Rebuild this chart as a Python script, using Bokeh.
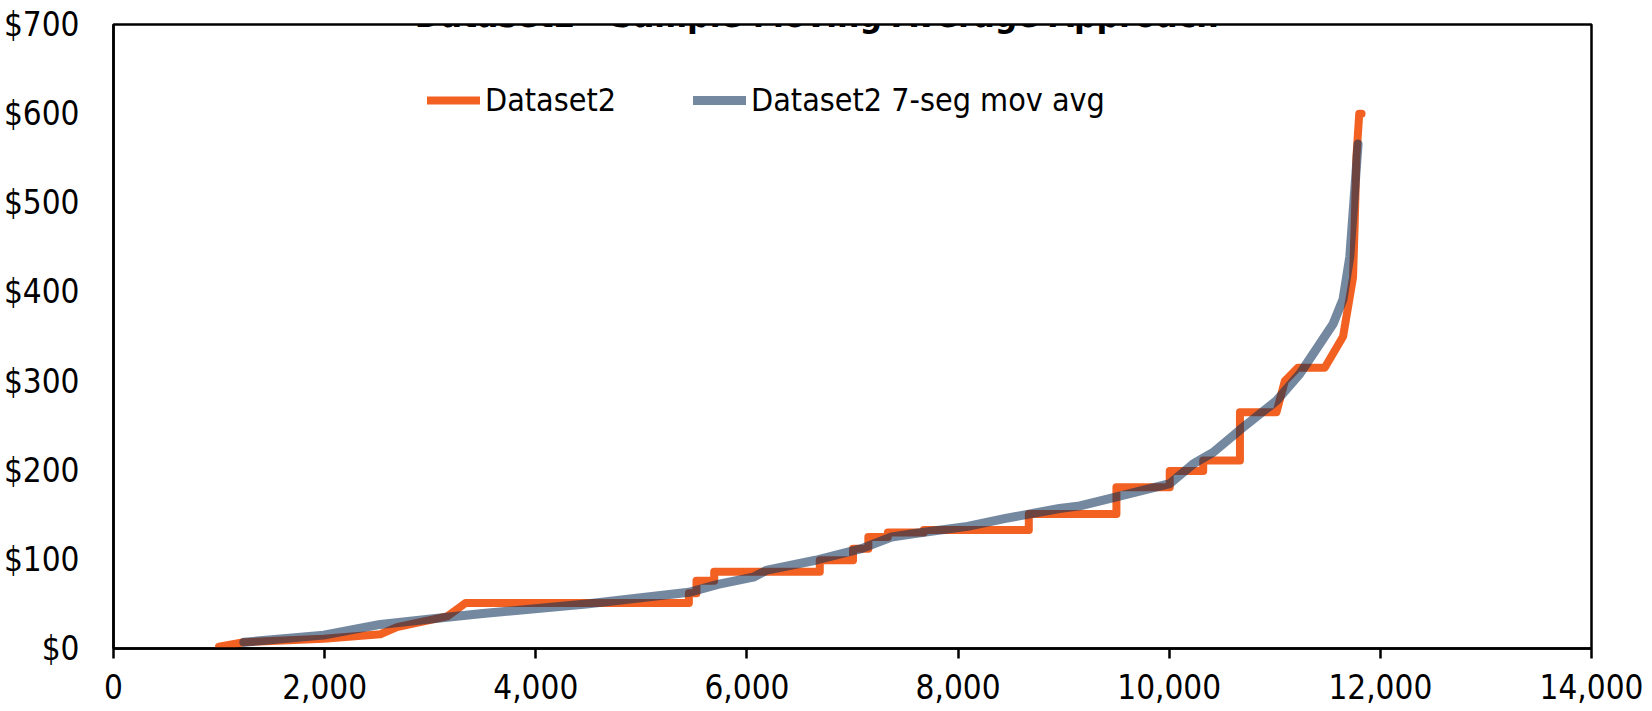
from bokeh.plotting import figure
from bokeh.models import Range1d, NumeralTickFormatter, FixedTicker, Label, Legend, LegendItem
from bokeh.embed import file_html
from bokeh.resources import INLINE

# ---- data ----
title_text = "Dataset2 - Sample Moving Average Approach"
series_names = ["Dataset2", "Dataset2 7-seg mov avg"]

# Dataset2 (sorted, step-like)
ds_x = [1000, 1234, 1990, 2527, 2685, 3160, 3335, 5450, 5450, 5522, 5522, 5690, 5690,
        6690, 6690, 7005, 7005, 7150, 7150, 7335, 7335, 7675, 7675, 8670, 8670,
        9500, 9500, 10005, 10005, 10322, 10322, 10670, 10670, 11016, 11095, 11218,
        11473, 11647, 11741, 11757, 11773, 11800, 11822]
ds_y = [2, 7, 11, 16, 24, 36, 51, 51, 62, 62, 76, 76, 86,
        86, 99, 99, 112, 112, 125, 125, 130, 130, 133, 133, 151,
        151, 181, 181, 199, 199, 211, 211, 265, 265, 300, 315,
        315, 350, 416, 476, 551, 600, 600]

# 7-segment moving average
ma_x = [1234, 1991, 2527, 3159, 3474, 4480, 5450, 5725, 6060, 6190, 6650, 7085,
        7370, 7590, 8090, 8450, 8960, 9154, 9501, 10006, 10227, 10416, 10668,
        10858, 11016, 11236, 11552, 11647, 11710, 11757, 11789]
ma_y = [7, 15, 27, 35, 39, 50, 63, 72, 80, 88, 99, 112,
        125, 129, 137, 146, 157, 160, 170, 185, 207, 220, 245,
        263, 278, 308, 364, 392, 439, 514, 566]

x_ticks = [0, 2000, 4000, 6000, 8000, 10000, 12000, 14000]
y_ticks = [0, 100, 200, 300, 400, 500, 600, 700]

FONT = "'Liberation Sans Narrow', 'Arial Narrow', 'DejaVu Sans Condensed', sans-serif"
ORANGE = "#F26122"
SLATE = "#0A2D58"

p = figure(width=1652, height=711, output_backend="svg", toolbar_location=None,
           x_range=Range1d(0, 14000), y_range=Range1d(0, 700),
           min_border_left=113, min_border_right=61, min_border_top=24, min_border_bottom=63)
p.background_fill_color = "white"
p.border_fill_color = "white"
p.grid.visible = False
p.outline_line_color = "black"
p.outline_line_width = 2.5

r1 = p.line(ds_x, ds_y, line_color=ORANGE, line_width=8, line_join="round", line_cap="round")
r2 = p.line(ma_x, ma_y, line_color=SLATE, line_alpha=0.57, line_width=9, line_join="round", line_cap="round")

# axes
p.xaxis.ticker = FixedTicker(ticks=x_ticks)
p.yaxis.ticker = FixedTicker(ticks=y_ticks)
p.xaxis.formatter = NumeralTickFormatter(format="0,0")
p.yaxis.formatter = NumeralTickFormatter(format="$0")
for ax in (p.xaxis, p.yaxis):
    ax.axis_line_color = "black"
    ax.axis_line_width = 2.5
    ax.major_label_text_font = FONT
    ax.major_label_text_font_size = "33px"
    ax.major_label_text_color = "black"
    ax.minor_tick_line_color = None
    ax.major_tick_line_color = "black"
    ax.major_tick_line_width = 2.5
p.xaxis.major_tick_out = 10
p.xaxis.major_tick_in = 0
p.xaxis.major_label_standoff = 15
p.yaxis.major_tick_out = 0
p.yaxis.major_tick_in = 0
p.yaxis.major_label_standoff = 34

# title (partly above the visible area, as in the reference)
title = Label(x=6660, y=711, text=title_text, text_align="center",
              text_baseline="alphabetic", text_font=FONT, text_font_size="35px",
              text_font_style="bold", text_color="black")
p.add_layout(title)

legend = Legend(items=[LegendItem(label=series_names[0], renderers=[r1]),
                       LegendItem(label=series_names[1], renderers=[r2])],
                orientation="horizontal", location=(314, 528))
legend.border_line_color = None
legend.background_fill_alpha = 0
legend.padding = 0
legend.margin = 0
legend.spacing = 77
legend.glyph_width = 53
legend.glyph_height = 40
legend.label_height = 40
legend.label_standoff = 5
legend.label_text_font = FONT
legend.label_text_font_size = "32px"
legend.label_text_color = "black"
p.add_layout(legend, "center")

open("out.html", "w").write(file_html(p, INLINE))
